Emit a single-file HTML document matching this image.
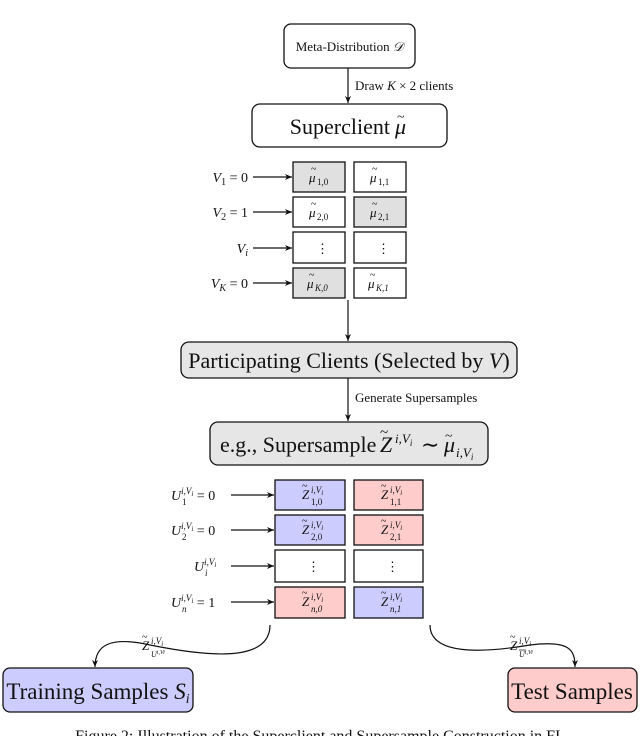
<!DOCTYPE html>
<html><head><meta charset="utf-8"><style>
html,body{margin:0;padding:0;background:#fff;}
svg{display:block;font-family:"Liberation Serif",serif;}
text{fill:#111;}
.i{font-style:italic;}
.t{font-size:10px;}
</style></head><body>
<svg width="640" height="736" viewBox="0 0 640 736" xmlns="http://www.w3.org/2000/svg">
<defs><marker id="a" markerWidth="8" markerHeight="8" refX="7" refY="4" orient="auto" markerUnits="userSpaceOnUse"><path d="M0,1 L7,4 L0,7 L2,4 Z" fill="#111"/></marker></defs>
<g stroke="#111" stroke-width="1.3" fill="none">
<rect x="284" y="24" width="131" height="44" rx="7" fill="#fff"/>
<rect x="252" y="104" width="195" height="43" rx="8" fill="#fff"/>
<rect x="181" y="342" width="336" height="36" rx="8" fill="#e6e6e6"/>
<rect x="210" y="422" width="278" height="43" rx="8" fill="#e6e6e6"/>
<rect x="3" y="668" width="190" height="44" rx="7" fill="#ccccff"/>
<rect x="508" y="668" width="129" height="44" rx="7" fill="#ffcccc"/>
<rect x="293" y="162" width="52" height="30" fill="#e0e0e0"/>
<rect x="354" y="162" width="52" height="30" fill="#fff"/>
<rect x="293" y="197" width="52" height="30" fill="#fff"/>
<rect x="354" y="197" width="52" height="30" fill="#e0e0e0"/>
<rect x="293" y="232" width="52" height="31" fill="#fff"/>
<rect x="354" y="232" width="52" height="31" fill="#fff"/>
<rect x="293" y="268" width="52" height="30" fill="#e0e0e0"/>
<rect x="354" y="268" width="52" height="30" fill="#fff"/>
<rect x="275" y="480" width="70" height="30" fill="#ccccff"/>
<rect x="354" y="480" width="69" height="30" fill="#ffcccc"/>
<rect x="275" y="515" width="70" height="30" fill="#ccccff"/>
<rect x="354" y="515" width="69" height="30" fill="#ffcccc"/>
<rect x="275" y="550" width="70" height="32" fill="#fff"/>
<rect x="354" y="550" width="69" height="32" fill="#fff"/>
<rect x="275" y="587" width="70" height="31" fill="#ffcccc"/>
<rect x="354" y="587" width="69" height="31" fill="#ccccff"/>
</g>
<g stroke="#111" stroke-width="1.2" fill="none" marker-end="url(#a)">
<line x1="348" y1="68" x2="348" y2="103"/>
<line x1="348" y1="300" x2="348" y2="341"/>
<line x1="348" y1="378" x2="348" y2="421"/>
<line x1="253" y1="177" x2="292" y2="177"/>
<line x1="253" y1="212" x2="292" y2="212"/>
<line x1="253" y1="248" x2="292" y2="248"/>
<line x1="253" y1="283" x2="292" y2="283"/>
<line x1="231" y1="495" x2="274" y2="495"/>
<line x1="231" y1="530" x2="274" y2="530"/>
<line x1="231" y1="566" x2="274" y2="566"/>
<line x1="231" y1="602" x2="274" y2="602"/>
<path d="M270,625 C270,665 200,655 150,645 C110,636 95,645 95,667"/>
<path d="M430,625 C430,660 500,650 530,645 C570,640 575,650 575,667"/>
</g>
<g font-size="13">
<text x="349.5" y="51" text-anchor="middle">Meta-Distribution <tspan class="i">𝒟</tspan></text>
<text x="355" y="90">Draw <tspan class="i">K</tspan> × 2 clients</text>
<text x="355" y="402">Generate Supersamples</text>
</g>
<text x="390" y="134" text-anchor="end" font-size="22">Superclient</text>
<text x="395" y="134" class="i" font-size="22">μ</text><text x="397" y="121" font-size="14">~</text>
<text x="349" y="368" text-anchor="middle" font-size="22">Participating Clients (Selected by <tspan class="i">V</tspan>)</text>
<text x="220" y="452" font-size="22">e.g., Supersample</text>
<text x="380" y="452" font-size="22" class="i">Z</text><text x="380" y="437" font-size="15">~</text>
<text x="395" y="443" font-size="13" class="i">i,V<tspan font-size="9" dy="3">i</tspan></text>
<text x="421" y="452" font-size="22">∼</text>
<text x="444" y="452" font-size="22" class="i">μ</text><text x="445" y="440" font-size="14">~</text>
<text x="456" y="457" font-size="13" class="i">i,V<tspan font-size="9" dy="3">i</tspan></text>
<text x="98" y="699" text-anchor="middle" font-size="23">Training Samples <tspan class="i">S</tspan><tspan class="i" font-size="14" dy="4">i</tspan></text>
<text x="572" y="699" text-anchor="middle" font-size="23">Test Samples</text>
<g font-size="14" text-anchor="end">
<text x="248" y="182"><tspan class="i">V</tspan><tspan font-size="10" dy="3">1</tspan><tspan dy="-3"> = 0</tspan></text>
<text x="248" y="217"><tspan class="i">V</tspan><tspan font-size="10" dy="3">2</tspan><tspan dy="-3"> = 1</tspan></text>
<text x="248" y="253"><tspan class="i">V</tspan><tspan font-size="10" dy="3" class="i">i</tspan></text>
<text x="248" y="288"><tspan class="i">V</tspan><tspan font-size="10" dy="3" class="i">K</tspan><tspan dy="-3"> = 0</tspan></text>
</g>
<g font-size="14">
<text x="171" y="500"><tspan class="i">U</tspan><tspan font-size="9" dy="-6" class="i">i,V</tspan><tspan font-size="7" dy="2" class="i">i</tspan><tspan font-size="14" dy="4">  = 0</tspan></text>
<text x="182" y="505" font-size="9">1</text>
<text x="171" y="535"><tspan class="i">U</tspan><tspan font-size="9" dy="-6" class="i">i,V</tspan><tspan font-size="7" dy="2" class="i">i</tspan><tspan font-size="14" dy="4">  = 0</tspan></text>
<text x="182" y="540" font-size="9">2</text>
<text x="194" y="571"><tspan class="i">U</tspan><tspan font-size="9" dy="-6" class="i">i,V</tspan><tspan font-size="7" dy="2" class="i">i</tspan></text>
<text x="205" y="576" font-size="9" class="i">i</text>
<text x="171" y="607"><tspan class="i">U</tspan><tspan font-size="9" dy="-6" class="i">i,V</tspan><tspan font-size="7" dy="2" class="i">i</tspan><tspan font-size="14" dy="4">  = 1</tspan></text>
<text x="182" y="612" font-size="9" class="i">n</text>
</g>
<g font-size="13">
<text x="309" y="182" class="i">μ</text><text x="311" y="172" class="t">~</text><text x="317" y="185" font-size="9">1,0</text>
<text x="370" y="182" class="i">μ</text><text x="372" y="172" class="t">~</text><text x="378" y="185" font-size="9">1,1</text>
<text x="309" y="217" class="i">μ</text><text x="311" y="207" class="t">~</text><text x="317" y="220" font-size="9">2,0</text>
<text x="370" y="217" class="i">μ</text><text x="372" y="207" class="t">~</text><text x="378" y="220" font-size="9">2,1</text>
<text x="316" y="253">⋮</text><text x="377" y="253">⋮</text>
<text x="307" y="288" class="i">μ</text><text x="309" y="278" class="t">~</text><text x="315" y="291" font-size="9" class="i">K,0</text>
<text x="368" y="288" class="i">μ</text><text x="370" y="278" class="t">~</text><text x="376" y="291" font-size="9" class="i">K,1</text>
</g>
<g font-size="13">
<text x="302" y="499" class="i">Z</text><text x="302" y="489" class="t">~</text><text x="311" y="493" font-size="9" class="i">i,V<tspan font-size="7" dy="2">i</tspan></text><text x="311" y="505" font-size="9">1,0</text>
<text x="381" y="499" class="i">Z</text><text x="381" y="489" class="t">~</text><text x="390" y="493" font-size="9" class="i">i,V<tspan font-size="7" dy="2">i</tspan></text><text x="390" y="505" font-size="9">1,1</text>
<text x="302" y="534" class="i">Z</text><text x="302" y="524" class="t">~</text><text x="311" y="528" font-size="9" class="i">i,V<tspan font-size="7" dy="2">i</tspan></text><text x="311" y="540" font-size="9">2,0</text>
<text x="381" y="534" class="i">Z</text><text x="381" y="524" class="t">~</text><text x="390" y="528" font-size="9" class="i">i,V<tspan font-size="7" dy="2">i</tspan></text><text x="390" y="540" font-size="9">2,1</text>
<text x="307" y="571">⋮</text><text x="386" y="571">⋮</text>
<text x="302" y="606" class="i">Z</text><text x="302" y="596" class="t">~</text><text x="311" y="600" font-size="9" class="i">i,V<tspan font-size="7" dy="2">i</tspan></text><text x="311" y="612" font-size="9" class="i">n,0</text>
<text x="381" y="606" class="i">Z</text><text x="381" y="596" class="t">~</text><text x="390" y="600" font-size="9" class="i">i,V<tspan font-size="7" dy="2">i</tspan></text><text x="390" y="612" font-size="9" class="i">n,1</text>
<text x="142" y="650" class="i">Z</text><text x="142" y="640" class="t">~</text><text x="151" y="644" font-size="9" class="i">i,V<tspan font-size="7" dy="2">i</tspan></text><text x="151" y="657" font-size="8" class="i">U<tspan font-size="6" dy="-3">i,Vi</tspan></text>
<text x="510" y="650" class="i">Z</text><text x="510" y="640" class="t">~</text><text x="519" y="644" font-size="9" class="i">i,V<tspan font-size="7" dy="2">i</tspan></text><text x="519" y="657" font-size="8" class="i">U<tspan font-size="6" dy="-3">i,Vi</tspan></text>
<line x1="519" y1="650" x2="526" y2="650" stroke="#111" stroke-width="0.7"/>
</g>
<text x="320" y="741" text-anchor="middle" font-size="16">Figure 2: Illustration of the Superclient and Supersample Construction in FL</text>
</svg>
</body></html>
